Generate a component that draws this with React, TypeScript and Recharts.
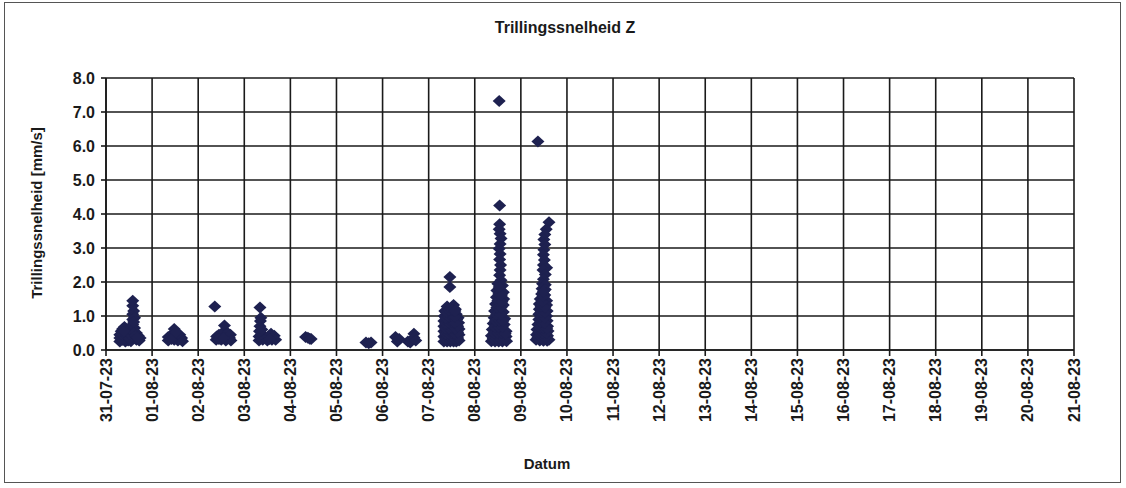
import React from "react";
import {
  ScatterChart,
  Scatter,
  XAxis,
  YAxis,
  CartesianGrid,
} from "recharts";

// x = days since 31-07-23, y = trillingssnelheid in mm/s
const dateLabels = [
  "31-07-23", "01-08-23", "02-08-23", "03-08-23", "04-08-23", "05-08-23",
  "06-08-23", "07-08-23", "08-08-23", "09-08-23", "10-08-23", "11-08-23",
  "12-08-23", "13-08-23", "14-08-23", "15-08-23", "16-08-23", "17-08-23",
  "18-08-23", "19-08-23", "20-08-23", "21-08-23",
];
const yTicks = [0, 1, 2, 3, 4, 5, 6, 7, 8];

const day31 = [
  [0.30, 0.25], [0.30, 0.35], [0.30, 0.45], [0.33, 0.55], [0.36, 0.62], [0.40, 0.68],
  [0.42, 0.50], [0.42, 0.35], [0.42, 0.25], [0.48, 0.60], [0.48, 0.42], [0.48, 0.28],
  [0.54, 0.55], [0.54, 0.40], [0.54, 0.26], [0.58, 0.75], [0.58, 0.90], [0.58, 1.05],
  [0.60, 1.15], [0.58, 1.30], [0.58, 1.45], [0.62, 0.95], [0.62, 0.65], [0.62, 0.35],
  [0.66, 0.50], [0.66, 0.30], [0.70, 0.42], [0.72, 0.28], [0.74, 0.35],
  [0.36, 0.30], [0.36, 0.45], [0.45, 0.42], [0.51, 0.34], [0.51, 0.48], [0.60, 0.50],
  [0.64, 0.42], [0.68, 0.36], [0.39, 0.55], [0.60, 0.82],
];
const day01 = [
  [1.35, 0.28], [1.35, 0.38], [1.42, 0.45], [1.48, 0.62], [1.48, 0.45], [1.48, 0.30],
  [1.54, 0.40], [1.56, 0.28], [1.60, 0.45], [1.64, 0.35], [1.66, 0.26], [1.42, 0.32],
  [1.52, 0.52],
];
const day02 = [
  [2.36, 1.28], [2.39, 0.30], [2.40, 0.40], [2.45, 0.45], [2.50, 0.30], [2.52, 0.42],
  [2.56, 0.55], [2.57, 0.72], [2.60, 0.40], [2.60, 0.28], [2.64, 0.50], [2.68, 0.35],
  [2.70, 0.45], [2.71, 0.28], [2.45, 0.32], [2.55, 0.35],
];
const day03 = [
  [3.34, 1.25], [3.32, 0.28], [3.32, 0.40], [3.33, 0.55], [3.34, 0.70], [3.35, 0.85],
  [3.36, 0.95], [3.40, 0.45], [3.40, 0.30], [3.46, 0.35], [3.50, 0.28], [3.52, 0.40],
  [3.58, 0.48], [3.60, 0.30], [3.65, 0.42], [3.68, 0.30], [3.38, 0.60], [3.55, 0.32],
];
const day04 = [[4.33, 0.38], [4.38, 0.36], [4.42, 0.33], [4.45, 0.32]];
const day05 = [[5.64, 0.22], [5.70, 0.20], [5.75, 0.22]];
const day06 = [
  [6.28, 0.38], [6.32, 0.25], [6.36, 0.32], [6.55, 0.25], [6.60, 0.22], [6.64, 0.30],
  [6.68, 0.48], [6.68, 0.36], [6.72, 0.28],
];
const day07 = [
  [7.33, 0.25], [7.33, 0.40], [7.33, 0.55], [7.33, 0.70], [7.33, 0.85], [7.34, 1.00], [7.35, 1.15],
  [7.40, 0.25], [7.40, 0.42], [7.40, 0.58], [7.40, 0.75], [7.41, 0.92], [7.40, 1.10], [7.40, 1.28],
  [7.47, 0.25], [7.47, 0.40], [7.47, 0.55], [7.47, 0.72], [7.46, 0.88], [7.47, 1.05], [7.48, 1.22],
  [7.54, 0.25], [7.54, 0.42], [7.54, 0.60], [7.54, 0.78], [7.53, 0.95], [7.54, 1.12], [7.54, 1.32],
  [7.60, 0.25], [7.60, 0.40], [7.60, 0.56], [7.60, 0.72], [7.61, 0.90], [7.60, 1.05], [7.58, 1.20],
  [7.66, 0.28], [7.66, 0.45], [7.66, 0.62], [7.65, 0.80], [7.64, 0.95],
  [7.37, 0.33], [7.44, 0.33], [7.50, 0.33], [7.57, 0.33], [7.63, 0.35],
  [7.37, 0.48], [7.44, 0.48], [7.50, 0.50], [7.57, 0.48], [7.63, 0.52],
  [7.37, 0.63], [7.44, 0.64], [7.50, 0.66], [7.57, 0.64], [7.63, 0.70],
  [7.37, 0.78], [7.44, 0.80], [7.50, 0.82], [7.57, 0.80],
  [7.37, 0.95], [7.44, 0.98], [7.50, 1.00], [7.57, 0.98],
  [7.38, 1.12], [7.44, 1.18], [7.51, 1.18], [7.57, 1.15],
  [7.46, 1.85], [7.46, 2.15],
];
const day08 = [
  [8.53, 7.32], [8.54, 4.25],
  [8.54, 3.70], [8.53, 3.55], [8.55, 3.42], [8.57, 3.28], [8.55, 3.12], [8.53, 2.98],
  [8.55, 2.82], [8.54, 2.66], [8.56, 2.50], [8.55, 2.35], [8.54, 2.20], [8.57, 2.05],
  [8.50, 1.95], [8.60, 1.90], [8.48, 1.75], [8.56, 1.75], [8.62, 1.70], [8.47, 1.55],
  [8.55, 1.55], [8.63, 1.50], [8.45, 1.35], [8.53, 1.35], [8.62, 1.32], [8.43, 1.15],
  [8.52, 1.15], [8.62, 1.12], [8.42, 0.95], [8.50, 0.95], [8.58, 0.95], [8.65, 0.92],
  [8.40, 0.78], [8.48, 0.78], [8.56, 0.78], [8.64, 0.75], [8.38, 0.60], [8.46, 0.60],
  [8.54, 0.60], [8.62, 0.60], [8.68, 0.55], [8.36, 0.42], [8.44, 0.42], [8.52, 0.42],
  [8.60, 0.42], [8.68, 0.40], [8.36, 0.26], [8.44, 0.25], [8.52, 0.25], [8.60, 0.25],
  [8.69, 0.26],
  [8.40, 0.34], [8.48, 0.34], [8.56, 0.34], [8.64, 0.33], [8.42, 0.50], [8.50, 0.50],
  [8.58, 0.50], [8.66, 0.48], [8.44, 0.68], [8.52, 0.68], [8.60, 0.68], [8.45, 0.86],
  [8.54, 0.86], [8.61, 0.85], [8.47, 1.05], [8.56, 1.05], [8.48, 1.25], [8.57, 1.25],
  [8.50, 1.45], [8.59, 1.42], [8.52, 1.65], [8.58, 1.62], [8.53, 1.85],
];
const day09 = [
  [9.37, 6.13], [9.61, 3.76],
  [9.55, 3.55], [9.52, 3.40], [9.50, 3.25], [9.52, 3.10], [9.50, 2.95], [9.49, 2.80],
  [9.51, 2.65], [9.49, 2.50], [9.56, 2.42], [9.48, 2.35], [9.53, 2.22], [9.49, 2.08],
  [9.47, 1.95], [9.53, 1.92], [9.46, 1.80], [9.53, 1.78], [9.45, 1.65], [9.52, 1.62],
  [9.42, 1.50], [9.50, 1.50], [9.56, 1.45], [9.40, 1.35], [9.48, 1.35], [9.56, 1.32],
  [9.40, 1.20], [9.48, 1.18], [9.57, 1.15], [9.39, 1.05], [9.47, 1.02], [9.56, 1.00],
  [9.39, 0.90], [9.47, 0.88], [9.57, 0.86], [9.37, 0.75], [9.45, 0.74], [9.53, 0.72],
  [9.58, 0.70], [9.35, 0.60], [9.43, 0.58], [9.51, 0.58], [9.59, 0.56], [9.34, 0.45],
  [9.42, 0.44], [9.50, 0.43], [9.58, 0.42], [9.33, 0.30], [9.41, 0.28], [9.49, 0.27],
  [9.57, 0.27], [9.61, 0.30],
  [9.37, 0.36], [9.45, 0.36], [9.53, 0.35], [9.39, 0.52], [9.47, 0.51], [9.55, 0.50],
  [9.41, 0.66], [9.49, 0.65], [9.56, 0.64], [9.43, 0.82], [9.51, 0.80], [9.43, 0.97],
  [9.52, 0.95], [9.44, 1.12], [9.52, 1.10], [9.44, 1.28], [9.52, 1.26], [9.46, 1.42],
  [9.49, 1.58], [9.49, 1.72],
];

const data = [
  ...day31, ...day01, ...day02, ...day03, ...day04, ...day05,
  ...day06, ...day07, ...day08, ...day09,
].map(([x, y]) => ({ x, y }));

const FONT = "'Liberation Sans', Arial, sans-serif";
const INK = "#1a1a1a";

const Diamond = (props: any) => {
  const { cx, cy } = props;
  if (cx == null || cy == null) return null;
  const w = 6.5;
  const h = 6;
  return (
    <polygon
      points={`${cx},${cy - h} ${cx + w},${cy} ${cx},${cy + h} ${cx - w},${cy}`}
      fill="#1e2150"
    />
  );
};

const DateTick = (props: any) => {
  const { x, y, payload } = props;
  return (
    <text
      transform={`translate(${x},${y}) rotate(-90)`}
      textAnchor="end"
      dominantBaseline="central"
      fontFamily={FONT}
      fontSize={16}
      fontWeight={700}
      fill={INK}
    >
      {dateLabels[payload.value]}
    </text>
  );
};

export default function App() {
  return (
    <div
      style={{
        position: "absolute",
        left: 0,
        top: 0,
        width: 1126,
        height: 488,
        background: "#fff",
        fontFamily: FONT,
      }}
    >
      <div
        style={{
          position: "absolute",
          left: 4,
          top: 2,
          width: 1115,
          height: 479,
          border: "1.5px solid #555",
        }}
      />
      <div
        style={{
          position: "absolute",
          left: 465,
          top: 20,
          width: 200,
          textAlign: "center",
          fontSize: 16,
          lineHeight: "16px",
          fontWeight: 700,
          color: INK,
        }}
      >
        Trillingssnelheid Z
      </div>
      <div
        style={{
          position: "absolute",
          left: 36,
          top: 213,
          transform: "translate(-50%, -50%) rotate(-90deg)",
          whiteSpace: "nowrap",
          fontSize: 15,
          fontWeight: 700,
          color: INK,
        }}
      >
        Trillingssnelheid [mm/s]
      </div>
      <div
        style={{
          position: "absolute",
          left: 547,
          top: 463,
          transform: "translate(-50%, -50%)",
          fontSize: 15,
          fontWeight: 700,
          color: INK,
        }}
      >
        Datum
      </div>
      <div style={{ position: "absolute", left: 0, top: 0 }}>
        <ScatterChart
          width={1126}
          height={488}
          margin={{ top: 78, right: 52, bottom: 58, left: 46 }}
        >
          <CartesianGrid stroke={INK} strokeWidth={1.6} />
          <XAxis
            type="number"
            dataKey="x"
            domain={[0, 21]}
            ticks={dateLabels.map((_, i) => i)}
            interval={0}
            height={80}
            tickSize={6}
            tickMargin={2}
            stroke={INK}
            strokeWidth={1.6}
            tick={<DateTick />}
          />
          <YAxis
            type="number"
            dataKey="y"
            domain={[0, 8]}
            ticks={yTicks}
            interval={0}
            width={60}
            tickSize={5}
            tickMargin={6}
            stroke={INK}
            strokeWidth={1.6}
            tickFormatter={(v: number) => v.toFixed(1)}
            tick={{ fill: INK, fontSize: 16, fontWeight: 700, fontFamily: FONT }}
          />
          <Scatter data={data} shape={<Diamond />} isAnimationActive={false} />
        </ScatterChart>
      </div>
    </div>
  );
}
